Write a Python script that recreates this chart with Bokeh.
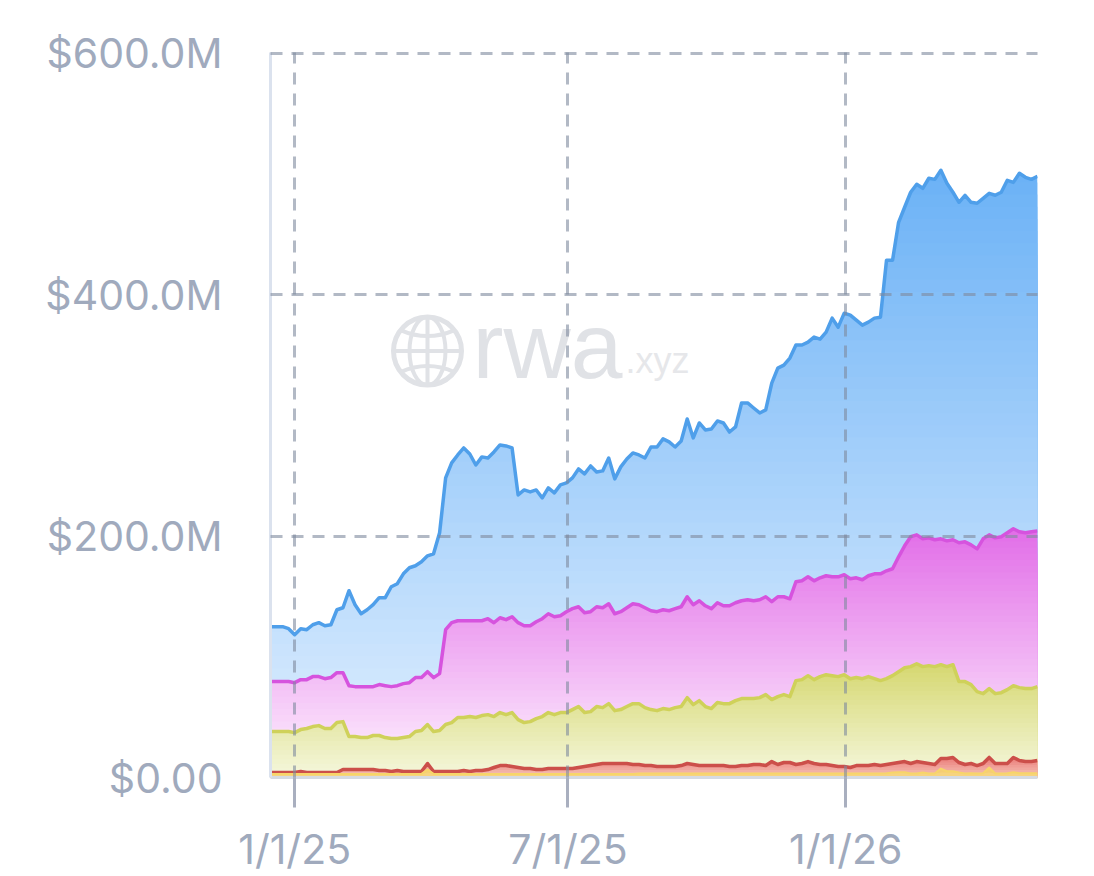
import numpy as np
import pandas as pd
from bokeh.plotting import figure
from bokeh.models import Range1d, FixedTicker
from bokeh.core.properties import value
from bokeh.embed import file_html
from bokeh.resources import INLINE

blue = [125.0,125.0,125.0,123.3,118.3,123.3,122.5,126.6,128.3,125.8,
126.6,139.0,140.7,154.8,143.2,135.7,139.0,143.2,149.0,149.0,
158.1,160.6,168.8,173.8,175.5,178.8,183.7,185.4,202.8,248.3,
260.7,267.3,273.1,268.1,259.0,265.7,264.8,269.8,275.6,274.8,
273.1,234.2,238.3,236.7,238.3,231.7,240.0,235.9,242.5,244.1,
248.3,255.7,251.6,258.2,253.2,254.1,264.8,247.5,257.4,264.0,
269.0,267.3,264.8,273.9,273.9,280.6,278.1,273.9,278.9,297.1,
281.4,293.8,288.0,288.8,295.5,293.8,286.3,290.5,310.4,310.4,
306.2,302.1,304.6,326.9,339.3,341.8,347.6,358.4,358.4,360.8,
365.0,363.3,369.1,380.7,373.2,384.8,383.2,379.0,374.9,377.4,
380.7,381.5,428.7,428.7,460.1,472.6,485.0,491.6,488.3,496.6,
495.7,503.2,492.4,485.0,476.7,482.5,476.7,475.9,480.0,484.1,
482.5,485.0,494.9,493.2,500.7,497.4,495.7,498.2]

magenta = [79.5,79.5,79.5,79.5,78.6,81.1,81.1,83.6,83.6,81.9,
82.8,86.9,86.9,76.1,75.3,75.3,75.3,75.3,77.0,76.1,
75.3,76.1,77.8,78.6,82.8,82.8,87.7,82.8,86.1,122.5,
128.3,129.9,129.9,129.9,129.9,129.9,131.6,128.3,132.4,130.8,
133.2,128.3,125.8,125.8,129.1,131.6,135.7,133.2,134.1,137.4,
139.9,141.5,136.6,137.4,141.5,140.7,144.0,135.7,137.4,140.7,
144.0,143.2,140.7,138.2,137.4,139.0,138.2,139.9,141.5,149.8,
143.2,146.5,142.3,139.9,144.8,142.3,142.3,144.8,146.5,147.3,
146.5,147.3,149.8,145.7,149.8,149.8,148.1,162.2,163.0,166.3,
163.0,165.5,167.2,166.3,166.3,168.0,164.7,165.5,163.9,167.2,
168.8,168.8,171.3,173.0,182.9,192.0,199.5,201.1,197.8,198.6,
197.0,197.8,196.1,197.0,194.5,195.3,192.8,189.5,197.8,201.1,
198.6,199.5,202.8,206.1,203.6,202.8,203.6,204.4]

green = [38.1,38.1,38.1,38.1,37.2,39.7,40.6,42.2,43.0,40.6,
40.6,45.5,46.3,33.9,33.9,33.1,33.1,34.8,34.8,33.1,
32.3,32.3,33.1,33.9,38.1,38.9,43.9,38.1,38.9,43.9,
45.5,49.7,49.7,50.5,49.7,51.3,52.1,50.5,53.8,52.1,
53.8,48.0,45.5,46.3,48.8,50.5,53.8,52.1,53.8,53.8,
56.3,58.8,53.8,54.6,58.8,57.9,61.2,55.4,56.3,58.8,
61.2,61.2,57.9,56.3,55.4,57.1,56.3,57.9,58.8,66.2,
60.4,63.7,58.8,57.1,62.1,61.2,61.2,63.7,65.4,65.4,
65.4,66.2,68.7,64.6,67.0,68.7,67.0,80.3,81.1,84.4,
81.1,83.6,85.2,84.4,83.6,85.2,81.9,82.8,81.9,83.6,
81.9,80.3,81.9,84.4,87.7,91.0,91.9,94.3,91.9,92.7,
91.9,93.5,91.9,93.5,79.5,79.5,77.0,71.2,69.5,73.7,
69.5,70.3,72.8,76.1,74.5,73.7,73.7,75.3]

red = [4.1,4.1,4.1,4.1,4.1,5.0,4.1,4.1,4.1,4.1,
4.1,4.1,6.6,6.6,6.6,6.6,6.6,6.6,5.8,5.8,
5.0,5.8,5.0,5.0,5.0,5.0,11.6,5.0,5.0,5.0,
5.0,5.0,5.8,5.0,5.8,5.8,6.6,8.3,9.9,9.9,
9.1,8.3,7.4,7.4,6.6,6.6,7.4,7.4,7.4,7.4,
7.4,8.3,9.1,9.9,10.8,11.6,11.6,11.6,11.6,11.6,
10.8,10.8,9.9,9.9,9.1,9.1,9.1,9.1,9.9,11.6,
10.8,9.9,9.9,9.9,9.9,9.9,9.1,9.1,9.9,9.9,
10.8,10.8,9.9,13.2,10.8,12.4,12.4,10.8,11.6,13.2,
11.6,10.8,10.8,9.9,9.1,9.1,8.3,9.9,9.9,9.9,
10.8,9.9,10.8,11.6,12.4,13.2,11.6,13.2,12.4,11.6,
10.8,15.7,15.7,16.6,12.4,10.8,11.6,9.9,11.6,16.6,
11.6,11.6,11.6,16.6,14.1,13.2,13.2,14.1]

yellow = [3.0,3.0,3.0,3.0,3.0,3.0,3.0,3.0,3.0,3.0,
3.0,3.0,3.0,3.0,3.0,3.0,3.0,3.0,3.0,3.0,
3.0,3.0,3.0,3.0,3.0,3.0,6.6,3.0,3.0,3.0,
3.0,3.0,3.0,3.0,3.0,3.0,3.0,3.0,3.0,3.0,
3.0,3.0,3.0,3.0,3.0,3.0,3.0,3.0,3.0,3.0,
3.0,3.0,3.0,3.0,3.0,3.0,3.0,3.0,3.0,3.0,
3.0,3.3,3.3,3.3,3.3,3.3,3.3,3.3,3.3,3.3,
3.3,3.3,3.3,3.3,3.3,3.3,3.3,3.3,3.3,3.3,
3.3,3.3,3.3,3.3,3.3,3.3,3.3,3.3,3.3,3.3,
3.3,3.3,3.3,3.3,3.3,3.3,3.3,3.3,3.3,3.3,
3.3,3.3,3.6,4.1,4.4,4.4,3.3,3.3,4.1,3.3,
3.3,7.4,5.2,5.2,4.1,3.3,3.6,3.3,3.6,8.3,
3.3,3.3,3.6,4.4,3.6,3.6,3.6,3.6]

tick_dates = ["2025-01-01", "2025-07-01", "2026-01-01"]
tick_labels = ["1/1/25", "7/1/25", "1/1/26"]
y_ticks = [0, 200, 400, 600]
y_labels = ["$0.00", "$200.0M", "$400.0M", "$600.0M"]

epoch = pd.Timestamp("1970-01-01")
def ms(d):
    return (pd.Timestamp(d) - epoch) / pd.Timedelta(milliseconds=1)

dates = pd.date_range("2024-12-16", periods=len(blue), freq="4D")
x = np.array([ms(d) for d in dates])
x0, x1 = x[0], x[-1]

FL, FT, FB, FR = 270, 53, 778, 1037   # frame edges on the page
W, H = 1094, 876

# one pixel of headroom above $600M so that its grid line is drawn
y_top = 600 * (FB - FT + 1) / (FB - FT)

p = figure(width=W, height=H, output_backend="svg", toolbar_location=None,
           x_range=Range1d(x0, x1), y_range=Range1d(0, y_top),
           min_border_left=FL, min_border_right=W - FR,
           min_border_top=FT - 1, min_border_bottom=H - FB)
p.outline_line_color = None
p.background_fill_color = "#ffffff"

def px(v):
    return x0 + (v - FL) / (FR - FL) * (x1 - x0)
def py(v):
    return (FB - v) / (FB - FT) * 600

# watermark
WM = "#e0e2e6"
gx, gy = 427, 351
p.ellipse(x=[px(gx)], y=[py(gy)], width=68, height=68, width_units="screen", height_units="screen",
          fill_color=None, line_color=WM, line_width=5)
p.ellipse(x=[px(gx)], y=[py(gy)], width=36, height=68, width_units="screen", height_units="screen",
          fill_color=None, line_color=WM, line_width=4)
p.segment(x0=[px(gx), px(gx - 34)], y0=[py(gy - 34), py(gy)],
          x1=[px(gx), px(gx + 34)], y1=[py(gy + 34), py(gy)], line_color=WM, line_width=4)
p.quadratic(x0=[px(gx - 27), px(gx - 27)], y0=[py(gy - 21), py(gy + 21)],
            x1=[px(gx + 27), px(gx + 27)], y1=[py(gy - 21), py(gy + 21)],
            cx=[px(gx), px(gx)], cy=[py(gy - 9), py(gy + 9)], line_color=WM, line_width=4)
p.text(x=[px(472)], y=[py(346)], text=["rwa"], text_font=value("Liberation Sans"),
       text_font_size=value("93px"), text_color=WM, text_baseline="alphabetic", text_align="left")
p.text(x=[px(625)], y=[py(360)], text=[".xyz"], text_font=value("Liberation Sans"),
       text_font_size=value("36px"), text_color="#e6e7ea", text_baseline="alphabetic", text_align="left")

def rgb(h):
    return np.array([int(h[i:i + 2], 16) for i in (1, 3, 5)], dtype=float)

def area(values, line, top, bottom, n, lw=3.5):
    y = np.array(values, dtype=float)
    ymax = y.max()
    ct, cb = rgb(top), rgb(bottom)
    zeros = np.zeros_like(y)
    for i in range(n, 0, -1):
        t = i / n
        c = cb + (ct - cb) * t
        col = "#%02x%02x%02x" % tuple(int(round(v)) for v in c)
        p.varea(x=x, y1=zeros, y2=np.minimum(y, ymax * t), fill_color=col)
    p.line(x, y, line_color=line, line_width=lw, line_join="round")

area(blue, "#4f9fea", "#6cb2f6", "#e4f1ff", 50)
area(magenta, "#d653de", "#e26fe8", "#fff6ff", 40)
area(green, "#cfd15a", "#d6d872", "#f6f8e0", 25)
area(red, "#cc4f4a", "#ec7f7c", "#f6cfc0", 8)
area(yellow, "#f7d56a", "#f6cd74", "#f8d98a", 2, lw=2.0)

# axes and grid
GRID = "#7f8a9e"
p.xgrid.ticker = FixedTicker(ticks=[ms(d) for d in tick_dates])
p.ygrid.ticker = FixedTicker(ticks=y_ticks[1:])
for g in (p.xgrid, p.ygrid):
    g.grid_line_color = GRID
    g.grid_line_alpha = 0.6
    g.grid_line_width = 3
    g.grid_line_dash = "12 9"
    g.level = "overlay"

LABEL = "#a0aabd"
ax = p.xaxis[0]
ax.ticker = FixedTicker(ticks=[ms(d) for d in tick_dates])
ax.major_label_overrides = {ms(d): l for d, l in zip(tick_dates, tick_labels)}
ax.major_tick_in = 0
ax.major_tick_out = 30
ax.minor_tick_line_color = None
ax.major_tick_line_color = "#a9afbf"
ax.major_tick_line_width = 3
ax.axis_line_color = "#d5dae2"
ax.axis_line_width = 3
ax.major_label_standoff = 16
ax.major_label_text_font = "Inter"
ax.major_label_text_font_size = "41px"
ax.major_label_text_color = LABEL

ay = p.yaxis[0]
ay.ticker = FixedTicker(ticks=y_ticks)
ay.major_label_overrides = dict(zip(y_ticks, y_labels))
ay.major_tick_line_color = None
ay.minor_tick_line_color = None
ay.major_tick_in = 0
ay.major_tick_out = 0
ay.axis_line_color = "#dbe2ee"
ay.axis_line_width = 3
ay.major_label_standoff = 48
ay.major_label_text_font = "Inter"
ay.major_label_text_font_size = "41px"
ay.major_label_text_color = LABEL

open("out.html", "w").write(file_html(p, INLINE))
